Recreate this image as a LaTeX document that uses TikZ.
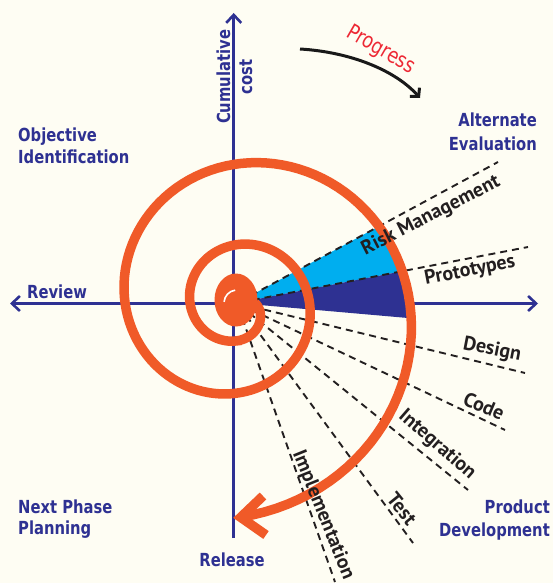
\documentclass[tikz,border=0pt]{standalone}
\usepackage{fontspec}
\usetikzlibrary{arrows.meta}
\newfontfamily\bluefont[FakeStretch=0.82]{DejaVu Sans}
\newfontfamily\labfont{PT Sans}
\definecolor{axisblue}{RGB}{46,49,146}
\definecolor{spiralor}{RGB}{240,90,40}
\definecolor{riskcyan}{RGB}{0,174,239}
\definecolor{bgcream}{RGB}{254,253,243}
\definecolor{progred}{RGB}{237,40,52}
\definecolor{dashgray}{RGB}{35,31,32}
\tikzset{
  axisline/.style={draw=axisblue, line width=2.6pt},
  quadlbl/.style={font=\bluefont\bfseries\fontsize{18}{22}\selectfont, text=axisblue, inner sep=0pt},
  phaselbl/.style={font=\labfont\bfseries\fontsize{20}{22}\selectfont, text=dashgray, inner sep=0pt},
  raydash/.style={draw=dashgray, line width=1.9pt, dash pattern=on 7pt off 5pt, shorten <=16pt},
  spiralline/.style={draw=spiralor, line width=9.5pt},
  barb/.style={-{Straight Barb[length=8pt,width=15pt]}},
}
\begin{document}
\begin{tikzpicture}[x=1pt,y=-1pt]
\fill[bgcream] (0,0) rectangle (553,583);
\useasboundingbox (0,0) rectangle (553,583);
% coordinates
\coordinate (c) at (237,303);
\coordinate (axTop) at (233.7,13);
\coordinate (axBot) at (233.7,538);
\coordinate (axL) at (10,303.5);
\coordinate (axR) at (538,303.5);
% axes
\draw[axisline, barb] (axBot) -- (axTop);
\draw[axisline, {Straight Barb[length=8pt,width=15pt]}-{Straight Barb[length=8pt,width=15pt]}] (axL) -- (axR);
% wedges
\coordinate (pRisk) at (379.0,226.2);
\coordinate (pProto) at (402.4,271.2);
\coordinate (pDark) at (411.3,318.3);
\fill[riskcyan] (c) -- (pRisk) -- (pProto) -- cycle;
\fill[axisblue] (c) -- (pProto) -- (pDark) -- cycle;
% dashed rays
\coordinate (eRisk) at (498,162);
\coordinate (eProto) at (528,247);
\coordinate (eDesign) at (525,373);
\coordinate (eCode) at (505,430);
\coordinate (eInteg) at (468,490);
\coordinate (eTest) at (413,543);
\coordinate (eImpl) at (335,582);
\foreach \e in {eRisk,eProto,eDesign,eCode,eInteg,eTest,eImpl}
  \draw[raydash] (c) -- (\e);
% spiral
\fill[spiralor] (236,300) ellipse [x radius=21.5, y radius=26.5];
\draw[white, line width=1.6pt] (237,303) ++(185:13) arc[start angle=185, end angle=262, radius=13];
\draw[spiralline]
  plot[domain=0:90, samples=40, variable=\t]
    ({237+(37.8+0.0913*(\t-90)-0.00143*(\t-90)*(\t-90))*cos(\t)},
     {303+(37.8+0.0913*(\t-90)-0.00143*(\t-90)*(\t-90))*sin(\t)})
  -- plot[domain=90:809, samples=220, variable=\t]
    ({237+exp(4.6095+0.002414*(\t-495))*cos(\t)},
     {303+exp(4.6095+0.002414*(\t-495))*sin(\t)});
\coordinate (tip) at (240.7,517.3);
\coordinate (arm1) at (263,496);
\coordinate (arm2) at (266,535);
\draw[spiralline, line join=miter, miter limit=10] (arm1) -- (tip) -- (arm2);
% phase labels
\node[phaselbl, rotate=27] (lRisk) at (431,216) {Risk Management};
\node[phaselbl, rotate=11] (lProto) at (470,271) {Prototypes};
\node[phaselbl, rotate=-11] (lDesign) at (492,350) {Design};
\node[phaselbl, rotate=-23] (lCode) at (484,406) {Code};
\node[phaselbl, rotate=-41] (lInteg) at (437,445) {Integration};
\node[phaselbl, rotate=-51] (lTest) at (402,509) {Test};
\node[phaselbl, rotate=-68] (lImpl) at (323,515) {Implementation};
% quadrant labels
\node[quadlbl, anchor=base west] (q1a) at (18,141) {Objective};
\node[quadlbl, anchor=base west] (q1b) at (18,163) {Identification};
\node[quadlbl, anchor=base east] (q2a) at (537,127) {Alternate};
\node[quadlbl, anchor=base east] (q2b) at (537,150) {Evaluation};
\node[quadlbl, anchor=base west] (q3a) at (18,513) {Next Phase};
\node[quadlbl, anchor=base west] (q3b) at (18,534) {Planning};
\node[quadlbl, anchor=base east] (q4a) at (550,513) {Product};
\node[quadlbl, anchor=base east] (q4b) at (550,536) {Development};
\node[quadlbl, anchor=base] (rel) at (232,566) {Release};
\node[quadlbl, anchor=base west] (rev) at (27,298) {Review};
\node[quadlbl, anchor=base, rotate=90] (cum) at (230,77) {Cumulative};
\node[quadlbl, anchor=base, rotate=90] (cst) at (252,77) {cost};
% progress
\coordinate (pgStart) at (300,49);
\coordinate (pgEnd) at (420,98);
\draw[line width=3pt, draw=black!90, -{Straight Barb[length=6pt,width=13pt]}] (pgStart) .. controls (350,52) and (395,70) .. (pgEnd);
\node[font=\bluefont\fontsize{21.5}{24}\selectfont, text=progred, inner sep=0pt, anchor=base, rotate=-30] (prog) at (378,55) {Progress};
\end{tikzpicture}
\end{document}
